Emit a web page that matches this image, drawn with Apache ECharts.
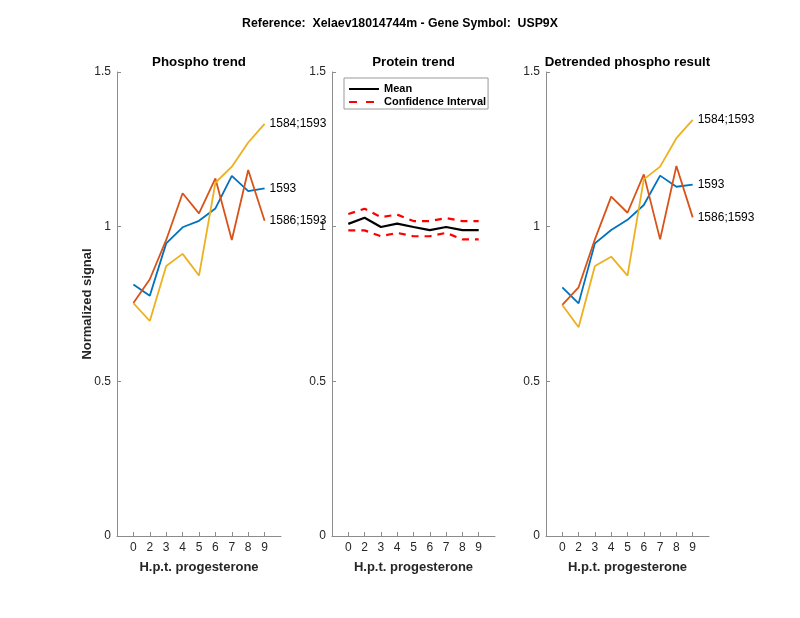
<!DOCTYPE html>
<html>
<head>
<meta charset="utf-8">
<script src="https://cdn.jsdelivr.net/npm/echarts@6.0.0/dist/echarts.min.js"></script>
<style>html,body{margin:0;padding:0;background:#fff}#c{width:800px;height:618px}</style>
</head>
<body>
<div id="c"></div>
<script>
// ---- data ----
var xLabels = ['0', '2', '3', '4', '5', '6', '7', '8', '9'];
var yTicks = [0, 0.5, 1, 1.5];

var phospho1593      = [0.813, 0.777, 0.946, 0.998, 1.019, 1.059, 1.164, 1.115, 1.124];
var phospho1586_1593 = [0.753, 0.830, 0.957, 1.108, 1.043, 1.156, 0.957, 1.183, 1.019];
var phospho1584_1593 = [0.753, 0.695, 0.873, 0.912, 0.842, 1.142, 1.194, 1.272, 1.332];

var proteinMean  = [1.009, 1.029, 0.999, 1.010, 0.999, 0.989, 0.999, 0.989, 0.989];
var proteinUpper = [1.041, 1.058, 1.031, 1.039, 1.018, 1.018, 1.028, 1.018, 1.018];
var proteinLower = [0.988, 0.988, 0.969, 0.980, 0.969, 0.969, 0.980, 0.959, 0.959];

var detr1593      = [0.804, 0.752, 0.946, 0.989, 1.022, 1.070, 1.165, 1.129, 1.136];
var detr1586_1593 = [0.747, 0.804, 0.959, 1.097, 1.045, 1.169, 0.959, 1.196, 1.030];
var detr1584_1593 = [0.747, 0.675, 0.873, 0.903, 0.842, 1.153, 1.194, 1.286, 1.345];

var mainTitle = 'Reference:  Xelaev18014744m - Gene Symbol:  USP9X';
var panelTitles = ['Phospho trend', 'Protein trend', 'Detrended phospho result'];
var xName = 'H.p.t. progesterone';
var yName = 'Normalized signal';

// ---- helpers ----
var FONT = 'Liberation Sans, Arial, Helvetica, sans-serif';
var AX = '#8c8c8c';
var TXT = '#262626';
var tickPos = xLabels.map(function (_, i) { return i + 1; });
function pts(arr) { return arr.map(function (v, i) { return [i + 1, v]; }); }

var grids = [
  { left: 117, top: 72, width: 164, height: 464 },
  { left: 332, top: 72, width: 163, height: 464 },
  { left: 546, top: 72, width: 163, height: 464 }
];

function xAx(i) {
  return {
    gridIndex: i, type: 'value', min: 0, max: 10, interval: 1,
    name: xName, nameLocation: 'middle', nameGap: 25,
    nameTextStyle: { fontFamily: FONT, fontSize: 13, fontWeight: 'bold', color: TXT },
    axisLine: { show: true, lineStyle: { color: AX, width: 1 } },
    axisTick: { show: true, inside: true, length: 4, customValues: tickPos, lineStyle: { color: AX } },
    axisLabel: {
      customValues: tickPos, margin: 6, fontFamily: FONT, fontSize: 12, color: TXT,
      formatter: function (v) { return xLabels[v - 1] || ''; }
    },
    splitLine: { show: false }
  };
}
function yAx(i) {
  var o = {
    gridIndex: i, type: 'value', min: 0, max: 1.5, interval: 0.5,
    axisLine: { show: true, lineStyle: { color: AX, width: 1 } },
    axisTick: { show: true, inside: true, length: 4, customValues: yTicks, lineStyle: { color: AX } },
    axisLabel: { customValues: yTicks, margin: 6, fontFamily: FONT, fontSize: 12, color: TXT },
    splitLine: { show: false }
  };
  if (i === 0) {
    o.name = yName; o.nameLocation = 'middle'; o.nameGap = 23; o.nameMoveOverlap = false;
    o.nameTextStyle = { fontFamily: FONT, fontSize: 13, fontWeight: 'bold', color: TXT };
  }
  return o;
}
function phos(name, data, color, gi) {
  return {
    name: name, type: 'line', xAxisIndex: gi, yAxisIndex: gi, data: pts(data),
    symbol: 'none', lineStyle: { color: color, width: 1.8 }, itemStyle: { color: color },
    animation: false, clip: false,
    endLabel: { show: true, formatter: '{a}', distance: 5, fontFamily: FONT, fontSize: 12, color: '#000' }
  };
}

var C_BLUE = '#0072BD', C_RED = '#D95319', C_YEL = '#EDB120';

var titles = [{
  text: mainTitle, left: 'center', top: 18, padding: 0,
  textStyle: { fontFamily: FONT, fontSize: 12.3, fontWeight: 'bold', color: '#000' }
}];
grids.forEach(function (g, i) {
  titles.push({
    text: panelTitles[i], left: g.left + g.width / 2, top: 56, padding: 0, textAlign: 'center',
    textStyle: { fontFamily: FONT, fontSize: 13.3, fontWeight: 'bold', color: '#000' }
  });
});

var option = {
  backgroundColor: '#fff',
  animation: false,
  title: titles,
  grid: grids,
  xAxis: [xAx(0), xAx(1), xAx(2)],
  yAxis: [yAx(0), yAx(1), yAx(2)],
  legend: {
    left: 344, top: 78, orient: 'vertical', padding: [5, 2, 1, 5], itemGap: 1,
    itemWidth: 30, itemHeight: 2,
    borderColor: '#999', borderWidth: 1, backgroundColor: '#fff',
    data: [
      { name: 'Mean', icon: 'path://M0,0H30V2H0Z' },
      { name: 'Confidence Interval', icon: 'path://M0,0H8V2H0Z M17,0H25V2H17Z M30,0L30,2Z' }
    ],
    textStyle: { fontFamily: FONT, fontSize: 11, lineHeight: 12, fontWeight: 'bold', color: '#000' }
  },
  series: [
    phos('1593', phospho1593, C_BLUE, 0),
    phos('1586;1593', phospho1586_1593, C_RED, 0),
    phos('1584;1593', phospho1584_1593, C_YEL, 0),
    {
      name: 'Mean', type: 'line', xAxisIndex: 1, yAxisIndex: 1, data: pts(proteinMean),
      symbol: 'none', lineStyle: { color: '#000', width: 2.2 }, itemStyle: { color: '#000' }
    },
    {
      name: 'Confidence Interval', type: 'line', xAxisIndex: 1, yAxisIndex: 1, data: pts(proteinUpper),
      symbol: 'none', lineStyle: { color: '#ff0000', width: 2.2, type: [7, 6] }, itemStyle: { color: '#ff0000' }
    },
    {
      name: 'Confidence Interval', type: 'line', xAxisIndex: 1, yAxisIndex: 1, data: pts(proteinLower),
      symbol: 'none', lineStyle: { color: '#ff0000', width: 2.2, type: [7, 6] }, itemStyle: { color: '#ff0000' }
    },
    phos('1593', detr1593, C_BLUE, 2),
    phos('1586;1593', detr1586_1593, C_RED, 2),
    phos('1584;1593', detr1584_1593, C_YEL, 2)
  ]
};

var chart = echarts.init(document.getElementById('c'), null, { renderer: 'canvas' });
chart.setOption(option);
</script>
</body>
</html>
